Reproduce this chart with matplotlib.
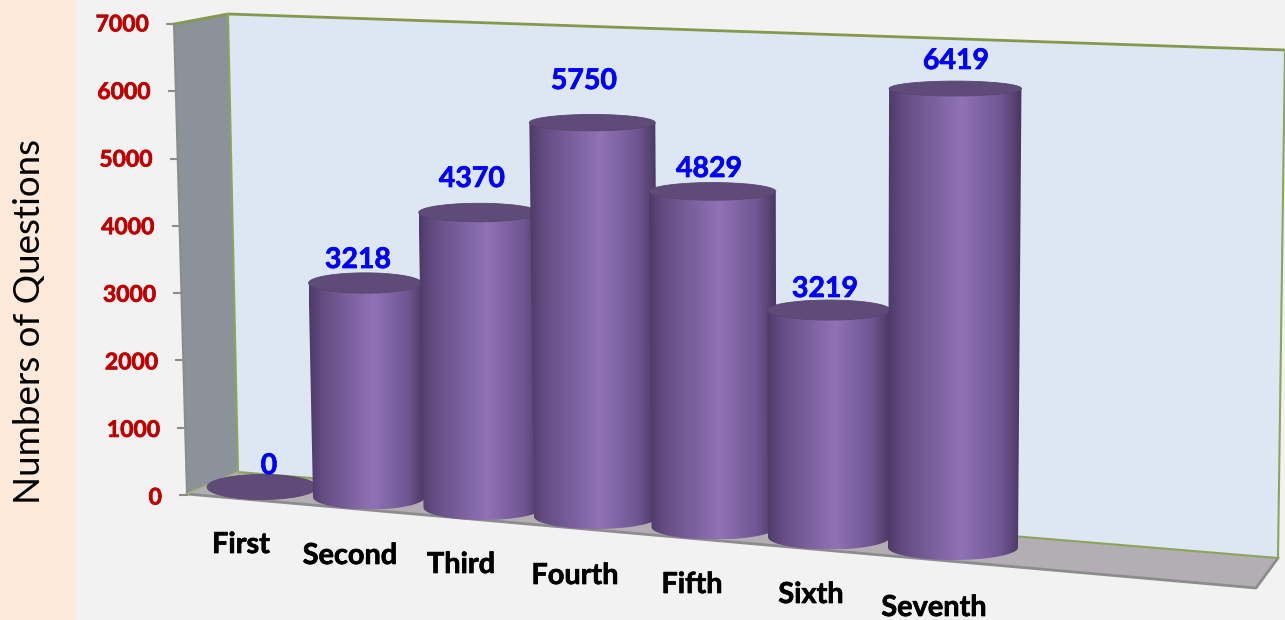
import numpy as np
import matplotlib
matplotlib.use('Agg')
import matplotlib.pyplot as plt
import matplotlib.patheffects as pe
from matplotlib.colors import LinearSegmentedColormap
from matplotlib.patches import Polygon, Rectangle

# datos del grafico
categories = ['First', 'Second', 'Third', 'Fourth', 'Fifth', 'Sixth', 'Seventh']
values = [0, 3218, 4370, 5750, 4829, 3219, 6419]
y_ticks = [0, 1000, 2000, 3000, 4000, 5000, 6000, 7000]

# posiciones en pixeles de la perspectiva
bar_x = [262, 369, 483, 596, 714, 829, 953]
bar_base = [487, 497, 507.5, 516.5, 527, 537, 547.5]
bar_hw = [55, 56, 59.5, 62, 62.5, 61, 65]
value_pos = [(269, 466), (358, 260), (472, 179), (584, 81), (709, 169), (825, 289), (956, 61)]
cat_pos = [(241, 545), (350, 556), (461, 565), (575, 576), (692, 585), (811, 595), (934, 608)]

bar_cmap = LinearSegmentedColormap.from_list('barra', [
    (0.0, '#4d3a69'), (0.12, '#654d83'), (0.55, '#9072b6'),
    (0.85, '#6f5591'), (1.0, '#48365f')])

fig = plt.figure(figsize=(12.85, 6.2), dpi=100, facecolor='#f2f2f2')
ax = fig.add_axes([0, 0, 1, 1])
ax.set_xlim(0, 1285)
ax.set_ylim(620, 0)
ax.axis('off')

font = ['Lato', 'DejaVu Sans']


def bold_text(x, y, s, size, color, ha='center'):
    # trazo fino para que el texto quede tan grueso como en el original
    ax.text(x, y, s, ha=ha, va='center', fontsize=size, fontweight='bold', family=font,
            color=color, zorder=20,
            path_effects=[pe.withStroke(linewidth=0.5, foreground=color)])


# franja izquierda
ax.add_patch(Rectangle((0, 0), 76, 620, fc='#fdeadb', ec='none'))
ax.text(30, 322, 'Numbers of Questions', rotation=90, ha='center', va='center',
        fontsize=26.5, family=font, color='black')

# paredes y piso
ax.add_patch(Polygon([(228, 14), (1285, 50), (1278, 558), (238, 472)], fc='#dde7f3', ec='none'))
ax.add_patch(Polygon([(174, 24), (228, 14), (238, 472), (187, 494)], fc='#8b9299', ec='none'))
ax.add_patch(Polygon([(187, 494), (238, 472), (1278, 558), (1256, 588)], fc='#b3aeb3', ec='none'))
ax.plot([174, 187], [24, 494], color='#8c8c8c', lw=1.5)
ax.plot([187, 1256, 1278], [494, 588, 558], color='#8c8c8c', lw=2)
ax.plot([174, 228, 1285], [24, 14, 50], color='#84994b', lw=2)
ax.plot([228, 238, 1278, 1285], [14, 472, 558, 50], color='#8ba55a', lw=1.5)
ax.plot([187, 238], [494, 472], color='#a5b87a', lw=1.2)


def wall_point(v):
    # punto del borde frontal de la pared para un valor del eje
    return 187 - 13 * v / 7000, 495 - 0.0673 * v


for t in y_ticks:
    x, y = wall_point(t)
    ax.plot([x - 7, x], [y, y], color='#8c8c8c', lw=1.5)
    bold_text(x - 25, y + 3 - t / 3500, str(t), 16.5, '#c00000', ha='right')


def ellipse(cx, cy, hw, hh, start, end):
    t = np.linspace(start, end, 80)
    return np.column_stack([cx + hw * np.cos(t), cy + hh * np.sin(t)])


for i, v in enumerate(values):
    scale = 0.0665 + 0.001 * (i - 1)
    h = v * scale
    base = bar_base[i]
    top = base - h
    hh_base = 12.5
    hh_top = 12.5 - h * 0.011
    left, right = bar_x[i] - bar_hw[i], bar_x[i] + bar_hw[i]
    # los bordes se abren un poco hacia arriba por la perspectiva
    left_top = left + (left - 830) * 4e-5 * h
    right_top = right + (right - 830) * 4e-5 * h
    cx_top = (left_top + right_top) / 2
    hw_top = (right_top - left_top) / 2
    if v > 0:
        body = np.vstack([[(left_top, top)], ellipse(bar_x[i], base, bar_hw[i], hh_base, np.pi, 0),
                          [(right_top, top)]])
        # el cuerpo se dibuja con un degradado recortado
        im = ax.imshow(np.linspace(0, 1, 256).reshape(1, -1), cmap=bar_cmap, aspect='auto',
                       extent=[min(left, left_top), max(right, right_top), base + hh_base, top],
                       zorder=3 + i)
        im.set_clip_path(Polygon(body, transform=ax.transData))
    ax.add_patch(Polygon(ellipse(cx_top, top, hw_top, hh_top, 0, 2 * np.pi),
                         fc='#5f4b78', ec='#59466f', lw=0.6, zorder=3 + i))

ax.set_xlim(0, 1285)
ax.set_ylim(620, 0)

for v, (x, y) in zip(values, value_pos):
    bold_text(x, y, str(v), 20.5, '#0000ff')

for c, (x, y) in zip(categories, cat_pos):
    bold_text(x, y, c, 20.8, 'black')

fig.savefig('out.png', dpi=100, facecolor=fig.get_facecolor())
